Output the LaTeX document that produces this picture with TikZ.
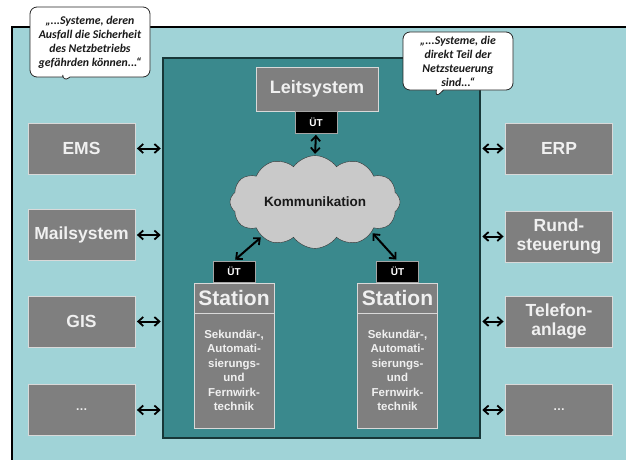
\documentclass[tikz,border=0pt]{standalone}
\usepackage{fontspec}
\setsansfont{Liberation Sans}
\newfontfamily\notefont{Carlito}
\usetikzlibrary{shapes.symbols,shapes.callouts,arrows.meta}
\definecolor{paleteal}{HTML}{A0D3D7}
\definecolor{darkteal}{HTML}{3A898D}
\definecolor{boxgray}{HTML}{7F7F7F}
\definecolor{cloudgray}{HTML}{C9C9C9}

\begin{document}
\begin{tikzpicture}[x=1pt,y=-1pt,
  sysbox/.style={draw=gray!30, fill=boxgray, line width=0.8pt, text=white!94!black,
    font=\sffamily\bfseries\fontsize{17.5}{19}\selectfont, align=center,
    minimum width=107pt, minimum height=51pt, inner sep=1pt},
  utbox/.style={draw=gray!70, fill=black, text=white, line width=0.6pt,
    font=\sffamily\bfseries\fontsize{10}{10}\selectfont,
    minimum width=42pt, minimum height=21pt, inner sep=0pt},
  link/.style={{Straight Barb[length=5pt,width=9pt,line width=1.8pt]}-{Straight Barb[length=5pt,width=9pt,line width=1.8pt]},
    line width=2pt, shorten <=1.5pt, shorten >=1.5pt},
  note/.style={rectangle callout, rounded corners=7pt, draw=black!85, fill=white,
    line width=0.8pt, text=black!90, align=center, inner sep=1pt,
    font=\notefont\bfseries\itshape\fontsize{11.8}{14}\selectfont}]
  \useasboundingbox (0,0) rectangle (626,460);
  \fill[paleteal] (12,27) rectangle (626,460);
  \draw[line width=1.6pt] (12,460) -- (12,27) -- (626,27);
  \node[draw=black!60!darkteal, fill=darkteal, line width=1.5pt,
    minimum width=317pt, minimum height=380pt] (core) at (321.5,248) {};
  % systems outside the control technology
  \foreach \name/\txt/\y in {ems/EMS/148.5, mail/Mailsystem/235, gis/GIS/321.5,
      moreL/{\fontsize{12}{12}\selectfont\ldots}/410}{
    \node[sysbox] (\name) at (81.5,\y) {\txt};
    \draw[link] (\name.east) -- (\name.east -| core.west);
  }
  \foreach \name/\txt/\y in {erp/ERP/148.5, rund/{Rund-\\steuerung}/236.5,
      tel/{Telefon-\\anlage}/321.5, moreR/{\fontsize{12}{12}\selectfont\ldots}/410}{
    \node[sysbox] (\name) at (559,\y) {\txt};
    \draw[link] (\name.west) -- (\name.west -| core.east);
  }
  % control system and communication
  \node[sysbox, minimum width=122pt, minimum height=44pt,
    font=\sffamily\bfseries\fontsize{18}{20}\selectfont] (leit) at (317,89) {Leitsystem};
  \node[utbox, minimum height=22pt] (utL) at (316,122) {ÜT};
  \node[cloud, cloud puffs=12, cloud puff arc=110, aspect=1.9, draw=black!80,
    fill=cloudgray, minimum width=170pt, minimum height=89pt, inner sep=0pt,
    font=\sffamily\bfseries\fontsize{13.5}{15}\selectfont, text=black!90] (komm) at (315,202) {Kommunikation};
  \draw[link] (utL.south) -- (komm.north);
  % stations
  \foreach \s/\x in {stA/234, stB/397.5}{
    \node[utbox] (\s ut) at (\x,271.5) {ÜT};
    \node[sysbox, minimum width=80pt, minimum height=30pt,
      font=\sffamily\bfseries\fontsize{21}{22}\selectfont] (\s) at (\x,298) {Station};
    \node[sysbox, minimum width=80pt, minimum height=115pt,
      font=\sffamily\bfseries\fontsize{11.5}{14.5}\selectfont] (\s body) at (\x,370.5)
      {Sekundär-,\\Automati-\\sierungs-\\und\\Fernwirk-\\technik};
  }
  \draw[link] (komm.213) -- (stAut.north);
  \draw[link] (komm.332) -- (stBut.north);
  % notes
  \node[note, minimum width=120pt, minimum height=70pt,
    callout absolute pointer={(63,82)}] (noteA) at (90,42)
    {„...Systeme, deren\\Ausfall die Sicherheit\\des Netzbetriebs\\gefährden können...“};
  \node[note, minimum width=110pt, minimum height=58pt,
    callout absolute pointer={(435,98)}] (noteB) at (458,61)
    {„...Systeme, die\\direkt Teil der\\Netzsteuerung\\sind...“};
\end{tikzpicture}
\end{document}
